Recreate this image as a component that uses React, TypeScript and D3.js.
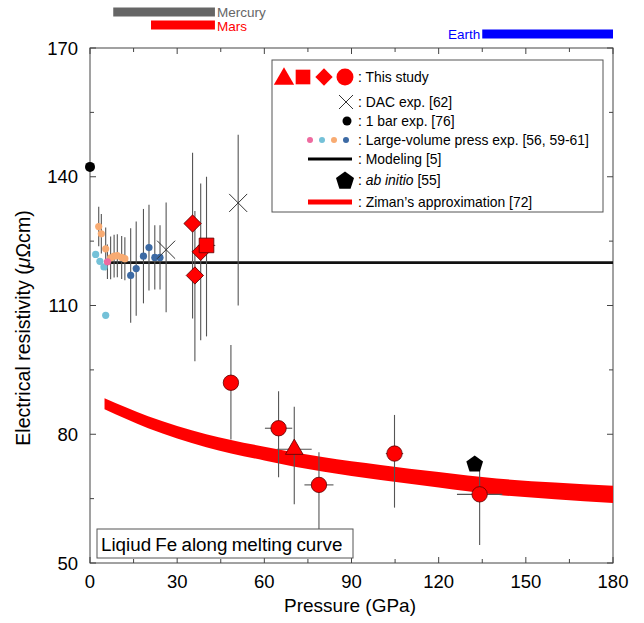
import * as d3 from "d3";

const FONT = "'Liberation Sans', Arial, Helvetica, sans-serif";

// axes
const xTicks = [0, 30, 60, 90, 120, 150, 180];
const xMinor = [15, 45, 75, 105, 135, 165];
const yTicks = [50, 80, 110, 140, 170];
const yMinor = [65, 95, 125, 155];

// planet core pressure ranges (GPa)
const planetNames = ["Mercury", "Mars", "Earth"];
const planetRanges = [[8, 43], [21, 43], [135, 180]];

// this study
const diamonds = [
  { p: 35.3, rho: 129.1, lo: 107, hi: 145.6, pErr: 0 },
  { p: 36.1, rho: 117, lo: 97, hi: 132, pErr: 0 },
  { p: 38.1, rho: 122.5, lo: 101.9, hi: 138.4, pErr: 0 },
];
const squares = [{ p: 40.1, rho: 124, lo: 102.8, hi: 140, pErr: 3 }];
const triangles = [{ p: 70.3, rho: 76.5, lo: 63.7, hi: 86.4, pErr: 6 }];
const circles = [
  { p: 48.5, rho: 92, lo: 78.8, hi: 100.8, pErr: 0 },
  { p: 64.9, rho: 81.4, lo: 70, hi: 90, pErr: 4.7 },
  { p: 78.8, rho: 68.2, lo: 57.9, hi: 75.8, pErr: 5 },
  { p: 104.8, rho: 75.5, lo: 62.9, hi: 84.5, pErr: 3 },
  { p: 134.1, rho: 66, lo: 54.2, hi: 73, pErr: 7.8 },
];

// DAC exp. [62]
const dac = [
  { p: 26.2, rho: 123, lo: 108.4, hi: 134 },
  { p: 51, rho: 133.9, lo: 110, hi: 149.8 },
];

// 1 bar exp. [76]
const oneBar = [{ p: 0, rho: 142.3 }];

// large-volume press
const lvpPink = [{ p: 6, rho: 120.2, err: 4 }];
const lvpCyan = [
  { p: 1.95, rho: 121.9, err: 0 },
  { p: 3.4, rho: 120.3, err: 0 },
  { p: 4.8, rho: 119.0, err: 0 },
  { p: 5.4, rho: 107.7, err: 0 },
];
const lvpOrange = [
  { p: 3.0, rho: 128.4, err: 4.6 },
  { p: 3.9, rho: 126.7, err: 4.6 },
  { p: 5.4, rho: 123.2, err: 5 },
  { p: 7.1, rho: 121.1, err: 5 },
  { p: 8.3, rho: 121.5, err: 5 },
  { p: 9.4, rho: 121.6, err: 5 },
  { p: 10.9, rho: 121.2, err: 5 },
  { p: 12.0, rho: 120.9, err: 5 },
];
const lvpBlue = [
  { p: 14.0, rho: 117.0, err: 11 },
  { p: 15.9, rho: 118.6, err: 11 },
  { p: 18.4, rho: 121.5, err: 11 },
  { p: 20.3, rho: 123.5, err: 10 },
  { p: 22.3, rho: 121.2, err: 7.5 },
  { p: 24.1, rho: 121.2, err: 7.5 },
];

// ab initio [55]
const abInitio = [{ p: 132.4, rho: 73 }];

// Modeling [5]
const modelP = [6.5, 180];
const modelRho = [120, 120];

// Ziman's approximation [72] band
const zimanP = [5, 20, 40, 60, 80, 100, 120, 140, 160, 180];
const zimanUpper = [88.4, 84.2, 80.0, 77.1, 74.7, 72.85, 71.2, 69.7, 68.75, 68.0];
const zimanLower = [85.8, 81.4, 77.0, 73.9, 71.3, 69.35, 67.6, 65.9, 64.85, 64.0];

const planetColors = ["#666666", "#ff0000", "#0000ff"];
const lvpColors = { pink: "#ee6a9f", cyan: "#74c1d8", orange: "#f8ab72", blue: "#3c6aa4" };
const RED = "#ff0000";
const ERR = "#555555";

const sym = (type: d3.SymbolType, size: number) => d3.symbol().type(type).size(size)()!;
const circlePath = sym(d3.symbolCircle, Math.PI * 7.7 * 7.7);
const trianglePath = sym(d3.symbolTriangle, 135);
const squarePath = sym(d3.symbolSquare, 215);
const diamondPath = sym(d3.symbolSquare, 150);
const pentagonPath = (r: number) =>
  d3.line()(
    d3.range(5).map((i) => {
      const a = -Math.PI / 2 + (i * 2 * Math.PI) / 5;
      return [r * Math.cos(a), r * Math.sin(a)] as [number, number];
    })
  ) + "Z";

export default function App() {
  const x = d3.scaleLinear().domain([0, 180]).range([90, 613]);
  const y = d3.scaleLinear().domain([50, 170]).range([563, 48]);

  const zimanArea = d3
    .area<number>()
    .x((_, i) => x(zimanP[i]))
    .y0((_, i) => y(zimanLower[i]))
    .y1((_, i) => y(zimanUpper[i]))
    .curve(d3.curveMonotoneX);

  const modelLine = d3
    .line<number>()
    .x((_, i) => x(modelP[i]))
    .y((_, i) => y(modelRho[i]));

  const studyPts = [
    ...diamonds.map((d) => ({ ...d, path: diamondPath, rot: 45 })),
    ...squares.map((d) => ({ ...d, path: squarePath, rot: 0 })),
    ...triangles.map((d) => ({ ...d, path: trianglePath, rot: 0 })),
    ...circles.map((d) => ({ ...d, path: circlePath, rot: 0 })),
  ];

  const lvpGroups = [
    { data: lvpCyan, color: lvpColors.cyan },
    { data: lvpOrange, color: lvpColors.orange },
    { data: lvpBlue, color: lvpColors.blue },
    { data: lvpPink, color: lvpColors.pink },
  ];

  const [x0, x1] = x.range();
  const [y0, y1] = y.range();

  const legendRows = [
    { y: 77, text: ": This study" },
    { y: 102, text: ": DAC exp. [62]" },
    { y: 121, text: ": 1 bar exp. [76]" },
    { y: 140, text: ": Large-volume press exp. [56, 59-61]" },
    { y: 159, text: ": Modeling [5]" },
    { y: 180, text: null },
    { y: 202, text: ": Ziman\u2019s approximation [72]" },
  ];

  const barTops = [7.5, 20.5, 29.5];
  const labelBase = [16.5, 30.5, 38.5];

  return (
    <svg
      width={644}
      height={623}
      style={{ position: "absolute", left: 0, top: 0, background: "#fff" }}
      fontFamily={FONT}
    >
      {/* planet pressure bars */}
      <g>
        {planetNames.map((n, i) => {
          const [a, b] = planetRanges[i];
          return (
            <g key={n}>
              <rect x={x(a)} y={barTops[i]} width={x(b) - x(a)} height={9} fill={planetColors[i]} />
              <text
                x={i === 2 ? x(a) - 2 : x(b) + 2}
                y={labelBase[i]}
                fontSize={13.5}
                fill={planetColors[i]}
                textAnchor={i === 2 ? "end" : "start"}
              >
                {n}
              </text>
            </g>
          );
        })}
      </g>

      {/* frame */}
      <rect x={x0} y={y1} width={x1 - x0} height={y0 - y1} fill="none" stroke="#444" strokeWidth={1} />

      {/* ticks */}
      <g stroke="#444" strokeWidth={1}>
        {xTicks.map((t) => (
          <g key={"xt" + t}>
            <line x1={x(t)} x2={x(t)} y1={y0} y2={y0 - 6} />
            <line x1={x(t)} x2={x(t)} y1={y1} y2={y1 + 6} />
          </g>
        ))}
        {xMinor.map((t) => (
          <g key={"xm" + t}>
            <line x1={x(t)} x2={x(t)} y1={y0} y2={y0 - 4} />
            <line x1={x(t)} x2={x(t)} y1={y1} y2={y1 + 4} />
          </g>
        ))}
        {yTicks.map((t) => (
          <g key={"yt" + t}>
            <line x1={x0} x2={x0 + 6} y1={y(t)} y2={y(t)} />
            <line x1={x1} x2={x1 - 6} y1={y(t)} y2={y(t)} />
          </g>
        ))}
        {yMinor.map((t) => (
          <g key={"ym" + t}>
            <line x1={x0} x2={x0 + 4} y1={y(t)} y2={y(t)} />
            <line x1={x1} x2={x1 - 4} y1={y(t)} y2={y(t)} />
          </g>
        ))}
      </g>

      {/* tick labels */}
      <g fontSize={18.5} fill="#000">
        {xTicks.map((t) => (
          <text key={"xl" + t} x={x(t)} y={588} textAnchor="middle">
            {t}
          </text>
        ))}
        {yTicks.map((t) => (
          <text key={"yl" + t} x={78} y={y(t) + 6.5} textAnchor="end">
            {t}
          </text>
        ))}
      </g>

      {/* axis titles */}
      <text x={350} y={612} fontSize={19} textAnchor="middle">
        Pressure (GPa)
      </text>
      <text transform="translate(30,328) rotate(-90)" fontSize={19.6} textAnchor="middle">
        Electrical resistivity (<tspan fontStyle="italic">μ</tspan>Ωcm)
      </text>

      {/* Ziman band */}
      <path d={zimanArea(zimanP)!} fill={RED} />

      {/* Modeling line */}
      <path d={modelLine(modelP)!} stroke="#111" strokeWidth={2.6} fill="none" />

      {/* error bars */}
      <g stroke={ERR} strokeWidth={1.1}>
        {lvpGroups.flatMap((g, gi) =>
          g.data
            .filter((d) => d.err > 0)
            .map((d, i) => (
              <line key={`le${gi}-${i}`} x1={x(d.p)} x2={x(d.p)} y1={y(d.rho - d.err)} y2={y(d.rho + d.err)} />
            ))
        )}
        {dac.map((d, i) => (
          <line key={"de" + i} x1={x(d.p)} x2={x(d.p)} y1={y(d.lo)} y2={y(d.hi)} />
        ))}
        {studyPts.map((d, i) => (
          <g key={"se" + i}>
            <line x1={x(d.p)} x2={x(d.p)} y1={y(d.lo)} y2={y(d.hi)} />
            {d.pErr > 0 && <line x1={x(d.p - d.pErr)} x2={x(d.p + d.pErr)} y1={y(d.rho)} y2={y(d.rho)} />}
          </g>
        ))}
      </g>

      {/* LVP dots */}
      {lvpGroups.map((g, gi) =>
        g.data.map((d, i) => <circle key={`lv${gi}-${i}`} cx={x(d.p)} cy={y(d.rho)} r={3.6} fill={g.color} />)
      )}

      {/* 1 bar */}
      {oneBar.map((d, i) => (
        <circle key={"ob" + i} cx={x(d.p)} cy={y(d.rho)} r={5} fill="#000" />
      ))}

      {/* DAC crosses */}
      {dac.map((d, i) => (
        <g key={"dx" + i} transform={`translate(${x(d.p)},${y(d.rho)})`} stroke="#333" strokeWidth={1}>
          <line x1={-9} y1={-9} x2={9} y2={9} />
          <line x1={-9} y1={9} x2={9} y2={-9} />
        </g>
      ))}

      {/* ab initio */}
      {abInitio.map((d, i) => (
        <path key={"ab" + i} d={pentagonPath(8.8)} transform={`translate(${x(d.p)},${y(d.rho)})`} fill="#000" />
      ))}

      {/* this study */}
      {studyPts.map((d, i) => (
        <path
          key={"sp" + i}
          d={d.path}
          transform={`translate(${x(d.p)},${y(d.rho)}) rotate(${d.rot})`}
          fill={RED}
          stroke="#5a0000"
          strokeWidth={0.8}
        />
      ))}

      {/* legend */}
      <g>
        <rect x={272} y={60} width={331} height={152} fill="#fff" stroke="#555" strokeWidth={1} />
        <path d={trianglePath} transform="translate(284,79) scale(1.15)" fill={RED} />
        <path d={squarePath} transform="translate(303,77)" fill={RED} />
        <path d={diamondPath} transform="translate(324,77) rotate(45)" fill={RED} />
        <path d={circlePath} transform="translate(345,77) scale(1.1)" fill={RED} />
        <g transform="translate(346,102)" stroke="#333" strokeWidth={1}>
          <line x1={-7} y1={-7} x2={7} y2={7} />
          <line x1={-7} y1={7} x2={7} y2={-7} />
        </g>
        <circle cx={347} cy={121} r={4.5} fill="#000" />
        {[lvpColors.pink, lvpColors.cyan, lvpColors.orange, lvpColors.blue].map((c, i) => (
          <circle key={c} cx={310 + i * 12} cy={140} r={3} fill={c} />
        ))}
        <line x1={308} x2={352} y1={159} y2={159} stroke="#000" strokeWidth={3} />
        <path d={pentagonPath(9.5)} transform="translate(345,181)" fill="#000" />
        <line x1={308} x2={352} y1={202} y2={202} stroke={RED} strokeWidth={5} />
        <g fontSize={13.9} fill="#000">
          {legendRows.map((r, i) =>
            r.text ? (
              <text key={i} x={358} y={r.y + 5}>
                {r.text}
              </text>
            ) : (
              <text key={i} x={358} y={r.y + 5}>
                : <tspan fontStyle="italic">ab initio</tspan> [55]
              </text>
            )
          )}
        </g>
      </g>

      {/* annotation box */}
      <rect x={97} y={529} width={256} height={29} fill="#fff" stroke="#555" strokeWidth={1} />
      <text x={101} y={550.5} fontSize={18.8} fill="#000" wordSpacing={-1}>
        Liqiud Fe along melting curve
      </text>
    </svg>
  );
}
